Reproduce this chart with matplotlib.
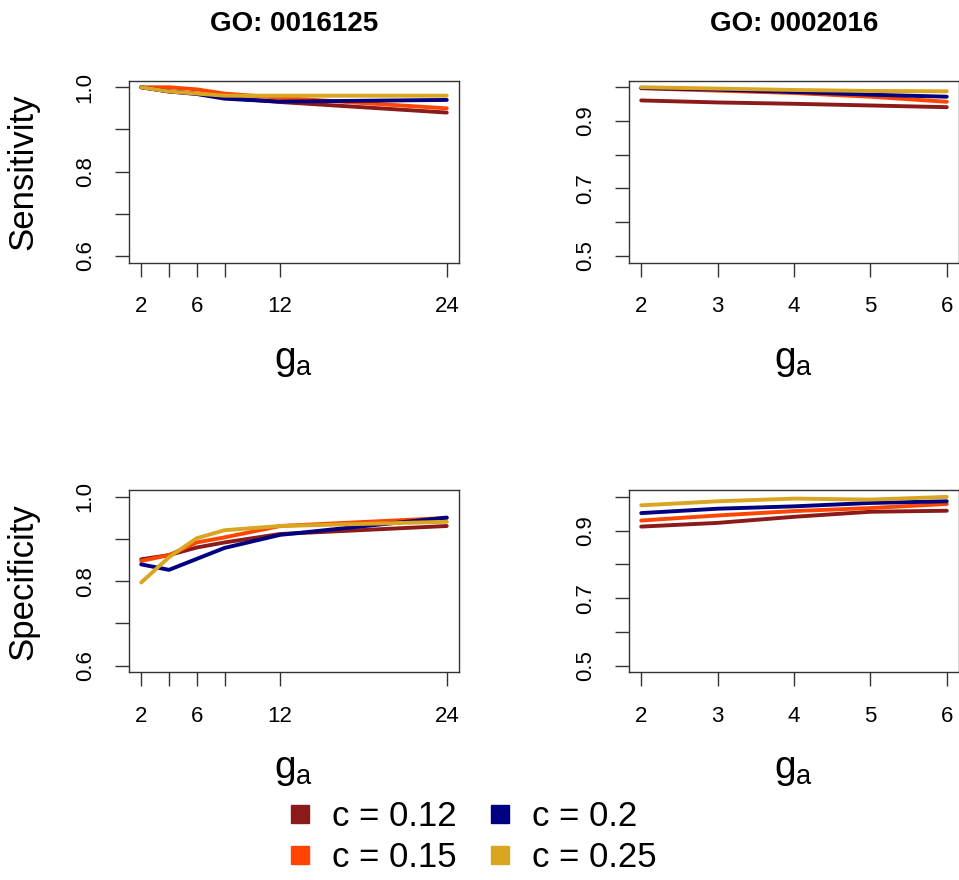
import matplotlib
matplotlib.use('Agg')
import matplotlib.pyplot as plt
from matplotlib.lines import Line2D

plt.rcParams['font.family'] = ['Liberation Sans', 'DejaVu Sans']
plt.rcParams['mathtext.fontset'] = 'custom'
plt.rcParams['mathtext.rm'] = 'Liberation Sans'
plt.rcParams['mathtext.it'] = 'Liberation Sans'

# group sizes g_a for each GO term
ga_left = [2, 4, 6, 8, 12, 24]
ga_right = [2, 3, 4, 5, 6]

c_labels = ['c = 0.12', 'c = 0.15', 'c = 0.2', 'c = 0.25']
c_colors = ['#8B1A1A', '#FF4500', '#000080', '#DAA520']

# GO: 0016125
sens_left = [
    [1.000, 0.990, 0.985, 0.975, 0.965, 0.940],
    [1.000, 1.000, 0.995, 0.985, 0.975, 0.950],
    [1.000, 0.990, 0.984, 0.973, 0.966, 0.970],
    [1.000, 0.990, 0.985, 0.980, 0.980, 0.980],
]
spec_left = [
    [0.852, 0.862, 0.880, 0.892, 0.912, 0.931],
    [0.848, 0.862, 0.892, 0.904, 0.931, 0.950],
    [0.840, 0.827, 0.853, 0.879, 0.910, 0.951],
    [0.797, 0.857, 0.902, 0.921, 0.931, 0.941],
]

# GO: 0002016
sens_right = [
    [0.961, 0.955, 0.951, 0.946, 0.941],
    [0.997, 0.990, 0.983, 0.972, 0.957],
    [0.998, 0.993, 0.986, 0.978, 0.972],
    [1.000, 0.996, 0.992, 0.989, 0.988],
]
spec_right = [
    [0.912, 0.923, 0.941, 0.956, 0.959],
    [0.930, 0.945, 0.958, 0.967, 0.979],
    [0.952, 0.965, 0.972, 0.982, 0.987],
    [0.975, 0.987, 0.995, 0.992, 1.000],
]

left_xticks = [2, 4, 6, 8, 12, 24]
left_xticklabels = ['2', '', '6', '', '12', '24']
left_yticks = [0.6, 0.7, 0.8, 0.9, 1.0]
left_yticklabels = ['0.6', '', '0.8', '', '1.0']
right_xticks = [2, 3, 4, 5, 6]
right_yticks = [0.5, 0.6, 0.7, 0.8, 0.9, 1.0]
right_yticklabels = ['0.5', '', '0.7', '', '0.9', '']

fig = plt.figure(figsize=(9.59, 8.8), dpi=100)

axw, axh = 0.3441, 0.207
positions = {
    'tl': [0.1345, 0.7015, axw, axh],
    'tr': [0.6559, 0.7015, axw, axh],
    'bl': [0.1345, 0.2360, axw, axh],
    'br': [0.6559, 0.2360, axw, axh],
}


def style_axis(ax, xticks, xticklabels, yticks, yticklabels, xlim, ylim):
    ax.set_xlim(*xlim)
    ax.set_ylim(*ylim)
    ax.set_xticks(xticks)
    ax.set_xticklabels(xticklabels)
    ax.set_yticks(yticks)
    ax.set_yticklabels(yticklabels, rotation=90, va='center')
    ax.tick_params(direction='out', length=10, width=1.0, color='#333333',
                   labelsize=16, pad=14)
    for sp in ax.spines.values():
        sp.set_color('#333333')
        sp.set_linewidth(1.0)
    ax.set_xlabel(r'$\mathrm{g_a}$', fontsize=28)
    ax.xaxis.set_label_coords(0.5, -0.44)


def draw_panel(key, xs, series, xticks, xticklabels, yticks, yticklabels, xlim, ylim):
    ax = fig.add_axes(positions[key])
    for ys, col in zip(series, c_colors):
        ax.plot(xs, ys, color=col, lw=2.8, solid_capstyle='round')
    style_axis(ax, xticks, xticklabels, yticks, yticklabels, xlim, ylim)
    return ax


xlim_left = (2 - 0.88, 24 + 0.88)
xlim_right = (2 - 0.16, 6 + 0.16)
ylim_left = (0.6 - 0.016, 1.0 + 0.016)
ylim_right = (0.5 - 0.02, 1.0 + 0.02)

ax_tl = draw_panel('tl', ga_left, sens_left, left_xticks, left_xticklabels,
                   left_yticks, left_yticklabels, xlim_left, ylim_left)
ax_tr = draw_panel('tr', ga_right, sens_right, right_xticks,
                   [str(v) for v in right_xticks], right_yticks,
                   right_yticklabels, xlim_right, ylim_right)
ax_bl = draw_panel('bl', ga_left, spec_left, left_xticks, left_xticklabels,
                   left_yticks, left_yticklabels, xlim_left, ylim_left)
ax_br = draw_panel('br', ga_right, spec_right, right_xticks,
                   [str(v) for v in right_xticks], right_yticks,
                   right_yticklabels, xlim_right, ylim_right)

ax_tl.text(0.5, 1.31, 'GO: 0016125', transform=ax_tl.transAxes,
           ha='center', va='center', fontsize=20, fontweight='bold')
ax_tr.text(0.5, 1.31, 'GO: 0002016', transform=ax_tr.transAxes,
           ha='center', va='center', fontsize=20, fontweight='bold')

for ax, lab in [(ax_tl, 'Sensitivity'), (ax_bl, 'Specificity')]:
    ax.set_ylabel(lab, fontsize=25)
    ax.yaxis.set_label_coords(-0.272, 0.5)

handles = [Line2D([], [], ls='none', marker='s', markersize=12.5,
                  markerfacecolor=col, markeredgecolor=col) for col in c_colors]
fig.legend(handles, c_labels, loc='center', bbox_to_anchor=(0.492, 0.049),
           ncol=2, frameon=False, fontsize=25, handlelength=0.75,
           handletextpad=0.55, columnspacing=0.85, labelspacing=0.22,
           borderpad=0)

fig.savefig('out.png', dpi=100)
